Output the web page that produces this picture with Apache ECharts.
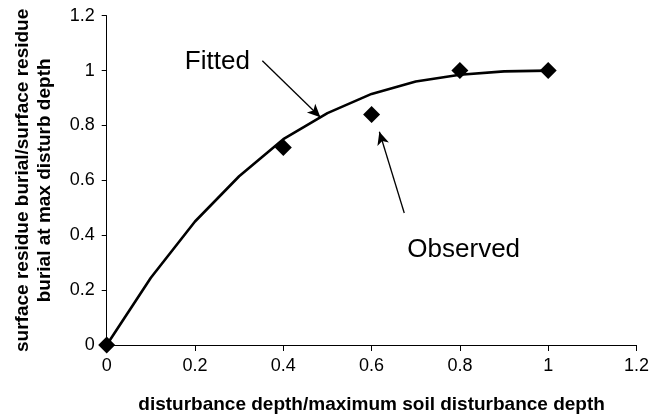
<!DOCTYPE html>
<html>
<head>
<meta charset="utf-8">
<script src="https://cdn.jsdelivr.net/npm/echarts@6/dist/echarts.min.js"></script>
<style>
html,body{margin:0;padding:0;background:#fff;}
#chart{width:652px;height:419px;}
</style>
</head>
<body>
<div id="chart"></div>
<script>
// ---- data ----
var fittedX = [0, 0.1, 0.2, 0.3, 0.4, 0.5, 0.6, 0.7, 0.8, 0.9, 1.0];
var fittedY = [0, 0.245, 0.45, 0.615, 0.75, 0.845, 0.915, 0.96, 0.985, 0.997, 1.0];
var observedX = [0, 0.4, 0.6, 0.8, 1.0];
var observedY = [0, 0.72, 0.84, 1.0, 1.0];
var xTickLabels = ['0', '0.2', '0.4', '0.6', '0.8', '1', '1.2'];
var yTickLabels = ['0', '0.2', '0.4', '0.6', '0.8', '1', '1.2'];
var xTitle = 'disturbance depth/maximum soil disturbance depth';
var yTitle = 'surface residue burial/surface residue\nburial at max disturb depth';
// annotations (data units)
var annotationTexts = ['Fitted', 'Observed'];
var annotationTextPos = [[0.177, 1.031], [0.681, 0.346]];
var arrowFrom = [[0.3525, 1.036], [0.674, 0.481]];
var arrowTo = [[0.484, 0.830], [0.6176, 0.777]];

var chart = echarts.init(document.getElementById('chart'), null, {renderer: 'canvas'});
var FONT = 'Liberation Sans, Arial, sans-serif';

function pairs(xs, ys) { return xs.map(function (x, i) { return [x, ys[i]]; }); }

var option = {
  animation: false,
  backgroundColor: '#fff',
  textStyle: {fontFamily: FONT},
  grid: {left: 106.7, right: 14, top: 15.7, bottom: 74, containLabel: false},
  xAxis: {
    type: 'value', min: 0, max: 1.2, interval: 0.2,
    axisLine: {lineStyle: {color: '#000', width: 1}},
    axisTick: {show: true, length: 6, lineStyle: {color: '#000'}},
    splitLine: {show: false},
    axisLabel: {color: '#000', fontSize: 18, fontFamily: FONT, margin: 12,
      formatter: function (v) { return xTickLabels[Math.round(v / 0.2)]; }},
    name: xTitle, nameLocation: 'middle', nameGap: 50,
    nameTextStyle: {color: '#000', fontSize: 19, fontWeight: 'bold', fontFamily: FONT}
  },
  yAxis: {
    type: 'value', min: 0, max: 1.2, interval: 0.2,
    axisLine: {show: true, lineStyle: {color: '#000', width: 1}},
    axisTick: {show: true, length: 5, lineStyle: {color: '#000'}},
    splitLine: {show: false},
    axisLabel: {color: '#000', fontSize: 18, fontFamily: FONT, margin: 12,
      formatter: function (v) { return yTickLabels[Math.round(v / 0.2)]; }},
    name: yTitle, nameLocation: 'middle', nameGap: 51,
    nameTextStyle: {color: '#000', fontSize: 19, fontWeight: 'bold', fontFamily: FONT, lineHeight: 22, align: 'center'}
  },
  series: [
    {
      name: 'Fitted', type: 'line', data: pairs(fittedX, fittedY),
      symbol: 'none', smooth: false,
      lineStyle: {color: '#000', width: 2.6},
      z: 2,
      markLine: {
        silent: true, animation: false,
        symbol: ['none', 'arrow'], symbolSize: 12,
        lineStyle: {color: '#000', width: 1.3, type: 'solid', opacity: 1},
        itemStyle: {color: '#000'},
        label: {show: false},
        emphasis: {disabled: true},
        data: arrowFrom.map(function (f, i) {
          return [{coord: f}, {coord: arrowTo[i], symbol: 'arrow', symbolSize: [9, 13]}];
        })
      }
    },
    {
      name: 'Observed', type: 'scatter', data: pairs(observedX, observedY),
      symbol: 'diamond', symbolSize: 17,
      itemStyle: {color: '#000', opacity: 1},
      z: 3
    }
  ]
};
chart.setOption(option);

var texts = annotationTexts.map(function (t, i) {
  var p = chart.convertToPixel({gridIndex: 0}, annotationTextPos[i]);
  return {
    type: 'text', x: p[0], y: p[1],
    style: {text: t, font: '26px ' + FONT, fill: '#000', align: 'left', verticalAlign: 'middle'}
  };
});
chart.setOption({graphic: texts});
</script>
</body>
</html>
